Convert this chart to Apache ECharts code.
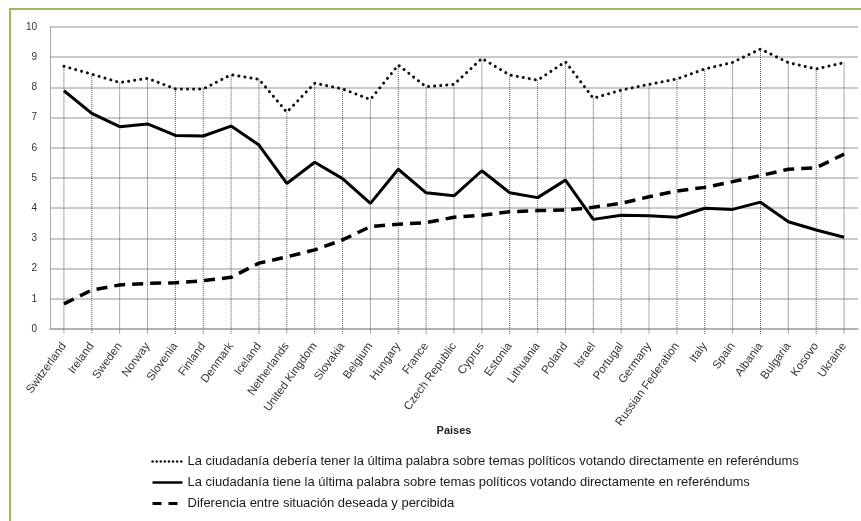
<!DOCTYPE html>
<html><head><meta charset="utf-8">
<script src="https://cdn.jsdelivr.net/npm/echarts@6/dist/echarts.min.js"></script>
<style>
html,body{margin:0;padding:0;background:#fff;width:861px;height:521px;overflow:hidden;}
#frame{position:absolute;left:9px;top:8px;width:900px;height:560px;border-left:2px solid #9bbb59;border-top:2px solid #9bbb59;}
#chart{position:absolute;left:0;top:0;width:861px;height:521px;}
</style></head>
<body>
<div id="frame"></div>
<div id="chart"></div>
<script>
const countries = ["Switzerland","Ireland","Sweden","Norway","Slovenia","Finland","Denmark","Iceland","Netherlands","United Kingdom","Slovakia","Belgium","Hungary","France","Czech Republic","Cyprus","Estonia","Lithuania","Poland","Israel","Portugal","Germany","Russian Federation","Italy","Spain","Albania","Bulgaria","Kosovo","Ukraine"];
const deseada = [8.7,8.44,8.16,8.3,7.95,7.95,8.42,8.27,7.18,8.14,7.95,7.6,8.74,8.02,8.1,8.96,8.41,8.24,8.85,7.64,7.91,8.1,8.28,8.61,8.83,9.27,8.82,8.61,8.82];
const percibida = [7.89,7.14,6.7,6.79,6.41,6.39,6.72,6.09,4.82,5.52,4.98,4.16,5.29,4.51,4.41,5.24,4.51,4.35,4.93,3.63,3.77,3.75,3.7,4.0,3.96,4.2,3.55,3.28,3.04];
const diferencia = [0.83,1.29,1.46,1.51,1.53,1.6,1.71,2.18,2.39,2.62,2.95,3.39,3.47,3.52,3.7,3.77,3.88,3.92,3.94,4.03,4.16,4.38,4.57,4.69,4.88,5.08,5.29,5.34,5.79];
const yTicks = [0,1,2,3,4,5,6,7,8,9,10];
const names = ["La ciudadanía debería tener la última palabra sobre temas políticos votando directamente en referéndums",
"La ciudadanía tiene la última palabra sobre temas políticos votando directamente en referéndums",
"Diferencia entre situación deseada y percibida"];

const dotType = [0.1,6], dashType = [11,7];
const chart = echarts.init(document.getElementById('chart'), null, {renderer:'canvas'});
const font = 'Liberation Sans, Arial, sans-serif';
chart.setOption({
  animation:false,
  backgroundColor:'transparent',
  grid:{left:50,right:3,top:27,bottom:192,containLabel:false},
  legend:{
    orient:'vertical', left:146, top:450, itemGap:8, itemWidth:30, itemHeight:13,
    data:[
      {name:names[0], itemStyle:{opacity:0}, lineStyle:{color:'#111',width:2.5,type:[0.1,4],cap:'round'}},
      {name:names[1], itemStyle:{opacity:0}, lineStyle:{color:'#000',width:2.5,type:'solid'}},
      {name:names[2], itemStyle:{opacity:0}, lineStyle:{color:'#000',width:3,type:[9,7]}}
    ],
    textStyle:{fontFamily:font,fontSize:13,color:'#1a1a1a'},
    selectedMode:false
  },
  xAxis:{
    type:'category', data:countries, boundaryGap:true,
    name:'Paises', nameLocation:'middle', nameGap:96, nameMoveOverlap:false,
    nameTextStyle:{fontFamily:font,fontSize:11,fontWeight:'bold',color:'#222'},
    axisLine:{lineStyle:{color:'#aaa',width:1.5}},
    axisTick:{show:false},
    axisLabel:{rotate:54,interval:0,fontFamily:font,fontSize:11.5,color:'#333',margin:15},
    splitLine:{show:false}
  },
  yAxis:{
    type:'value', min:0, max:10, interval:1,
    axisLine:{show:true,lineStyle:{color:'#aaa',width:1}},
    axisTick:{show:false},
    axisLabel:{fontFamily:font,fontSize:10,color:'#333',margin:13},
    splitLine:{lineStyle:{color:'#b8b8b8',width:1.5}}
  },
  series:[
    {type:'custom', silent:true, z:1,
     data:deseada.map((v,i)=>[i,v]),
     renderItem:(params,api)=>{
       const t = api.coord([api.value(0),api.value(1)]);
       const b = api.coord([api.value(0),0]);
       return {type:'line',shape:{x1:t[0],y1:t[1],x2:b[0],y2:b[1]+5},
               style:{stroke:'#555',lineWidth:1,lineDash:[1,1]}};
     }},
    {name:names[0], type:'line', data:deseada, symbol:'none', z:3, itemStyle:{color:'#000'},
     lineStyle:{color:'#111',width:3,type:dotType,cap:'round'}},
    {name:names[1], type:'line', data:percibida, symbol:'none', z:3, itemStyle:{color:'#000'},
     lineStyle:{color:'#000',width:3,type:'solid'}},
    {name:names[2], type:'line', data:diferencia, symbol:'none', z:3, itemStyle:{color:'#000'},
     lineStyle:{color:'#000',width:3.5,type:dashType}}
  ]
});
</script>
</body></html>
